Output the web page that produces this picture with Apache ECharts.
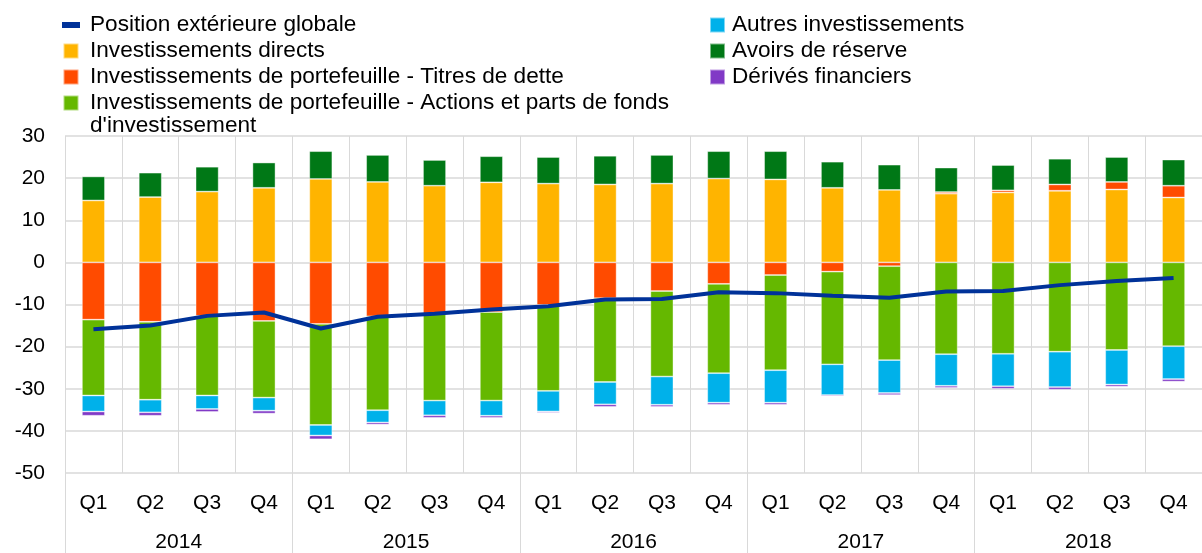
<!DOCTYPE html>
<html>
<head>
<meta charset="utf-8">
<script src="https://cdn.jsdelivr.net/npm/echarts@6/dist/echarts.min.js"></script>
<style>
html, body { margin: 0; padding: 0; background: #fff; }
#chart { width: 1202px; height: 553px; }
</style>
</head>
<body>
<div id="chart"></div>
<script>
var trimestres = ['Q1','Q2','Q3','Q4','Q1','Q2','Q3','Q4','Q1','Q2','Q3','Q4','Q1','Q2','Q3','Q4','Q1','Q2','Q3','Q4'];
var annees = ['2014','2015','2016','2017','2018'];

var posGlobale = [-15.9,-15.0,-12.7,-11.9,-15.7,-12.9,-12.2,-11.2,-10.4,-8.8,-8.7,-7.1,-7.3,-7.9,-8.4,-6.9,-6.8,-5.4,-4.4,-3.7];
var invDirects = [14.7,15.5,16.8,17.7,19.8,19.1,18.2,19.0,18.7,18.5,18.7,19.9,19.7,17.7,17.2,16.3,16.6,17.0,17.3,15.4];
var titresDette = [-13.6,-14.1,-12.7,-13.9,-14.6,-12.8,-12.2,-11.8,-10.1,-8.5,-6.8,-5.1,-3.0,-2.2,-0.9,0.4,0.5,1.5,1.8,2.8];
var actions = [-18.0,-18.5,-18.9,-18.2,-24.0,-22.3,-20.6,-21.0,-20.4,-19.9,-20.3,-21.2,-22.6,-22.0,-22.3,-21.8,-21.7,-21.2,-20.8,-19.9];
var autresInv = [-3.8,-3.0,-3.2,-3.1,-2.5,-2.9,-3.5,-3.6,-4.9,-5.3,-6.7,-7.0,-7.7,-7.3,-7.8,-7.5,-7.7,-8.4,-8.2,-7.8];
var avoirsReserve = [5.7,5.8,5.9,6.0,6.6,6.4,6.1,6.2,6.3,6.8,6.8,6.5,6.7,6.2,6.0,5.8,6.0,6.1,5.9,6.2];
var derives = [-1.0,-0.8,-0.7,-0.7,-0.9,-0.5,-0.6,-0.5,-0.3,-0.6,-0.5,-0.5,-0.5,-0.3,-0.5,-0.5,-0.6,-0.6,-0.5,-0.6];

var police = 'Liberation Sans, Arial, sans-serif';
var carre = 'path://M0,0H15V15H0Z';

function barre(nom, couleur, valeurs) {
    return {
        name: nom,
        type: 'bar',
        stack: 'total',
        barWidth: 23,
        itemStyle: { color: couleur, borderColor: 'rgba(255,255,255,0.5)', borderWidth: 0.8 },
        data: valeurs
    };
}

const chart = echarts.init(document.getElementById('chart'));

chart.setOption({
    animation: false,
    textStyle: { fontFamily: police },
    grid: { left: 65, right: -3, top: 136, bottom: 77 },
    legend: [
        {
            orient: 'vertical',
            left: 57, top: 7,
            itemWidth: 18, itemHeight: 15, itemGap: 0,
            textStyle: { fontSize: 22.6, color: '#000', lineHeight: 26, padding: [0, 0, 0, 5] },
            data: [
                { name: 'Position extérieure globale', icon: 'path://M0,0H18V6H0Z' },
                { name: 'Investissements directs', icon: carre },
                { name: 'Investissements de portefeuille - Titres de dette', icon: carre },
                { name: 'Investissements de portefeuille - Actions et parts de fonds', icon: carre }
            ]
        },
        {
            orient: 'vertical',
            left: 704, top: 7,
            itemWidth: 15, itemHeight: 15, itemGap: 0,
            textStyle: { fontSize: 22.6, color: '#000', lineHeight: 26, padding: [0, 0, 0, 2] },
            data: [
                { name: 'Autres investissements', icon: carre },
                { name: 'Avoirs de réserve', icon: carre },
                { name: 'Dérivés financiers', icon: carre }
            ]
        }
    ],
    graphic: [
        {
            type: 'text', left: 90, top: 114,
            style: { text: "d'investissement", fontSize: 22.6, fontFamily: police, fill: '#000' }
        }
    ],
    xAxis: [
        {
            type: 'category',
            data: trimestres,
            axisLine: { show: false },
            axisTick: { show: false },
            axisLabel: { fontSize: 21, color: '#000', margin: 20, interval: 0 },
            splitLine: { show: true, interval: 0, lineStyle: { color: '#d9d9d9', width: 1 } }
        },
        {
            type: 'category',
            data: annees,
            position: 'bottom',
            axisLine: { show: false },
            axisTick: { show: true, length: 80, interval: 0, lineStyle: { color: '#d9d9d9', width: 1 } },
            axisLabel: { fontSize: 21, color: '#000', margin: 59, interval: 0 },
            splitLine: { show: false }
        }
    ],
    yAxis: {
        type: 'value',
        min: -50, max: 30, interval: 10,
        axisLine: { show: false },
        axisTick: { show: false },
        axisLabel: { fontSize: 21, color: '#000', margin: 20 },
        splitLine: { lineStyle: { color: '#d9d9d9', width: 1.6 } }
    },
    series: [
        barre('Investissements directs', '#FFB400', invDirects),
        barre('Investissements de portefeuille - Titres de dette', '#FF4B00', titresDette),
        barre('Investissements de portefeuille - Actions et parts de fonds', '#65B800', actions),
        barre('Autres investissements', '#00B1EA', autresInv),
        barre('Avoirs de réserve', '#007816', avoirsReserve),
        barre('Dérivés financiers', '#8139C6', derives),
        {
            name: 'Position extérieure globale',
            type: 'line',
            data: posGlobale,
            symbol: 'none',
            z: 5,
            itemStyle: { color: '#003299' },
            lineStyle: { color: '#003299', width: 4 }
        }
    ]
});
</script>
</body>
</html>
